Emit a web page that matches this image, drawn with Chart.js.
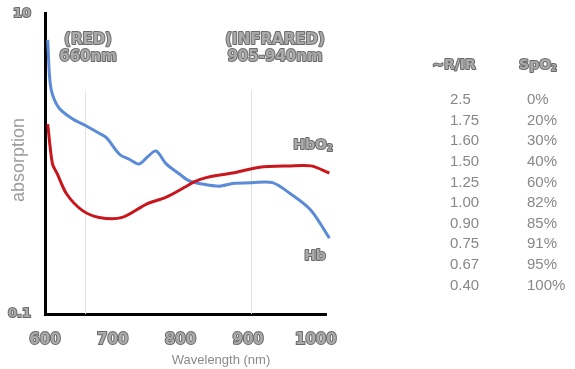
<!DOCTYPE html>
<html>
<head>
<meta charset="utf-8">
<script src="https://cdn.jsdelivr.net/npm/chart.js@4/dist/chart.umd.min.js"></script>
<style>
  html, body { margin: 0; padding: 0; background: #fff; }
  #wrap { width: 575px; height: 369px; }
</style>
</head>
<body>
<div id="wrap"><canvas id="spectrum"></canvas></div>
<script>
// absorption curves (nm, relative absorption, log scale)
const hbo2Nm  = [604, 611, 618, 632, 655, 680, 714, 750, 779, 809, 820, 838, 877, 917, 960, 993, 1020];
const hbo2Abs = [1.84, 1.0, 0.86, 0.63, 0.49, 0.44, 0.44, 0.54, 0.60, 0.71, 0.76, 0.81, 0.87, 0.95, 0.97, 0.97, 0.87];

const hbNm  = [604, 607, 611, 621, 641, 661, 680, 691, 710, 725, 739, 752, 764, 779, 798, 813, 828, 857, 877, 906, 936, 963, 993, 1020];
const hbAbs = [6.7, 3.7, 2.9, 2.35, 1.99, 1.79, 1.60, 1.49, 1.16, 1.07, 1.0, 1.12, 1.22, 1.0, 0.86, 0.77, 0.74, 0.71, 0.74, 0.75, 0.75, 0.63, 0.49, 0.32];

// red / infrared led wavelengths (thin guide lines)
const ledNm = [660, 905];
const ledTop = 3.1;

const xTicks = [600, 700, 800, 900, 1000];
const yTicks = [0.1, 10];

// R/IR ratio vs SpO2 table
const ratioValues = ['2.5', '1.75', '1.60', '1.50', '1.25', '1.00', '0.90', '0.75', '0.67', '0.40'];
const spo2Values  = ['0%', '20%', '30%', '40%', '60%', '82%', '85%', '91%', '95%', '100%'];

function pairs(xs, ys) {
  return xs.map((x, i) => ({ x: x, y: ys[i] }));
}

const ledSets = ledNm.map(nm => ({
  data: [{ x: nm, y: 0.1 }, { x: nm, y: ledTop }],
  borderColor: '#e2e2e2',
  borderWidth: 1,
  pointRadius: 0,
  tension: 0
}));

function emboss(ctx, text, x, y, size, align) {
  ctx.font = 'bold ' + size + 'px "DejaVu Sans"';
  ctx.textAlign = align || 'center';
  ctx.textBaseline = 'middle';
  ctx.lineJoin = 'round';
  ctx.lineWidth = 2;
  ctx.strokeStyle = '#6b6b6b';
  ctx.strokeText(text, x, y);
  ctx.fillStyle = '#aaaaaa';
  ctx.fillText(text, x, y);
}

// text with a small subscript "2"
function embossSub(ctx, text, sub, cx, y, size) {
  ctx.font = 'bold ' + size + 'px "DejaVu Sans"';
  const w1 = ctx.measureText(text).width;
  ctx.font = 'bold ' + (size * 0.6) + 'px "DejaVu Sans"';
  const w2 = ctx.measureText(sub).width;
  const left = cx - (w1 + w2) / 2;
  emboss(ctx, text, left, y, size, 'left');
  emboss(ctx, sub, left + w1, y + size * 0.25, size * 0.6, 'left');
}

const labelsPlugin = {
  id: 'labels',
  afterDraw(chart) {
    const ctx = chart.ctx;
    ctx.save();

    emboss(ctx, '(RED)', 88, 40, 15);
    emboss(ctx, '660nm', 88, 57, 15);
    emboss(ctx, '(INFRARED)', 275, 40, 15);
    emboss(ctx, '905-940nm', 275, 57, 15);
    embossSub(ctx, 'HbO', '2', 313, 145, 14);
    emboss(ctx, 'Hb', 315, 256, 14);

    // axis titles
    ctx.fillStyle = '#9c9c9c';
    ctx.font = '18px "Liberation Sans"';
    ctx.textAlign = 'center';
    ctx.textBaseline = 'middle';
    ctx.translate(19, 160);
    ctx.rotate(-Math.PI / 2);
    ctx.fillText('absorption', 0, 0);
    ctx.setTransform(1, 0, 0, 1, 0, 0);

    ctx.fillStyle = '#8a8a8a';
    ctx.font = '13px "Liberation Sans"';
    ctx.fillText('Wavelength (nm)', 221, 360);

    // table
    emboss(ctx, '~R/IR', 454, 65, 14);
    embossSub(ctx, 'SpO', '2', 538, 65, 14);
    ctx.font = '15px "Liberation Sans"';
    ctx.fillStyle = '#888888';
    ctx.textAlign = 'left';
    ctx.textBaseline = 'middle';
    ratioValues.forEach((r, i) => {
      const y = 100 + i * 20.6;
      ctx.fillText(r, 450, y);
      ctx.fillText(spo2Values[i], 527, y);
    });
    ctx.restore();
  }
};

const tickLook = {
  color: '#aaaaaa',
  textStrokeColor: '#6b6b6b',
  textStrokeWidth: 2,
  callback: v => String(v)
};

new Chart(document.getElementById('spectrum'), {
  type: 'line',
  data: {
    datasets: [
      {
        label: 'HbO2',
        data: pairs(hbo2Nm, hbo2Abs),
        borderColor: '#c8161d',
        borderWidth: 3,
        pointRadius: 0,
        tension: 0.3,
        clip: false
      },
      {
        label: 'Hb',
        data: pairs(hbNm, hbAbs),
        borderColor: '#5b8bd8',
        borderWidth: 3,
        pointRadius: 0,
        tension: 0.3,
        clip: false
      }
    ].concat(ledSets)
  },
  options: {
    responsive: true,
    maintainAspectRatio: false,
    animation: false,
    layout: { padding: { top: 12, right: 249, left: 0, bottom: 0 } },
    plugins: {
      legend: { display: false },
      tooltip: { enabled: false }
    },
    scales: {
      x: {
        type: 'linear',
        min: 600,
        max: 1015,
        afterBuildTicks: s => { s.ticks = xTicks.map(v => ({ value: v })); },
        afterFit: s => { s.height = 55; },
        grid: { display: false },
        border: { color: '#000', width: 3 },
        ticks: Object.assign({
          padding: 9,
          font: { family: 'DejaVu Sans', size: 15, weight: 'bold' },
          maxRotation: 0
        }, tickLook)
      },
      y: {
        type: 'logarithmic',
        min: 0.1,
        max: 10,
        afterBuildTicks: s => { s.ticks = yTicks.map(v => ({ value: v })); },
        afterFit: s => { s.width = 45; },
        grid: { display: false },
        border: { color: '#000', width: 3 },
        ticks: Object.assign({
          padding: 6,
          font: { family: 'DejaVu Sans', size: 13, weight: 'bold' }
        }, tickLook)
      }
    }
  },
  plugins: [labelsPlugin]
});
</script>
</body>
</html>
